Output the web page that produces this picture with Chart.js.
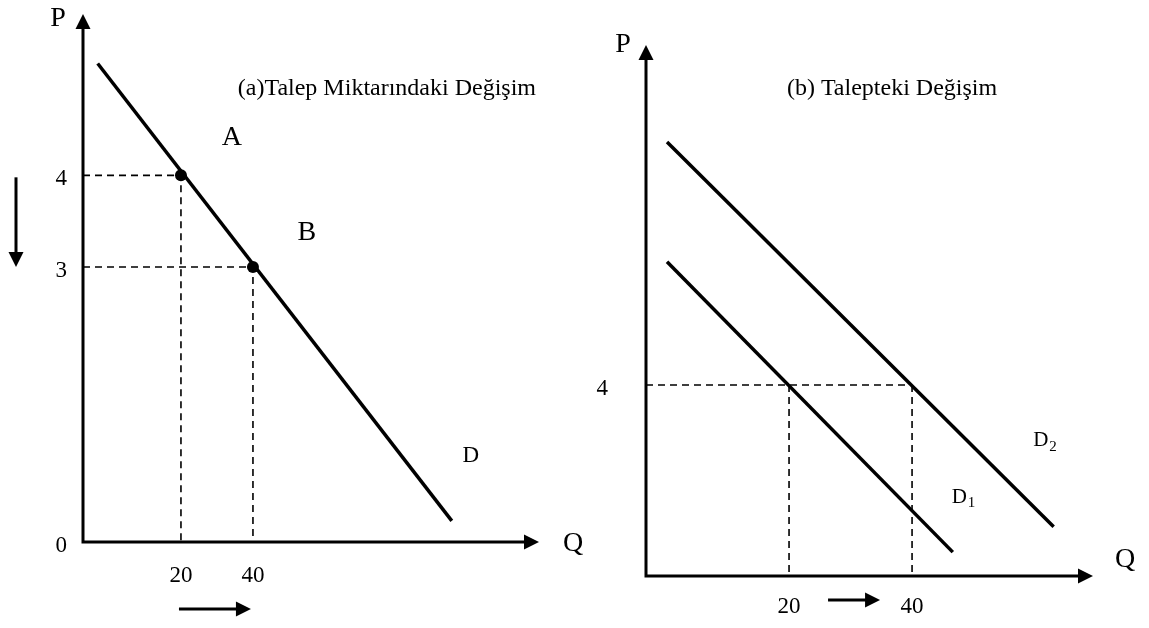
<!DOCTYPE html>
<html lang="tr">
<head>
<meta charset="utf-8" />
<title>Talep Miktarındaki Değişim / Talepteki Değişim</title>
<style>
*{margin:0;padding:0;box-sizing:border-box}
body{width:1149px;height:628px;background:#fff;position:relative;overflow:hidden}
.panel{position:absolute;top:0}
#panelA{left:0;width:595px;height:628px}
#panelB{left:595px;width:554px;height:628px}
</style>
</head>
<body>
<div class="panel" id="panelA"><canvas id="chartA" width="595" height="628"></canvas></div>
<div class="panel" id="panelB"><canvas id="chartB" width="554" height="628"></canvas></div>

<script src="https://cdn.jsdelivr.net/npm/chart.js@4.4.1"></script>
<script>
/* the sketch is not to scale: Q runs in sketch units and the 20 / 40 labels
   sit where the picture puts them */

/* ── panel (a): movement along one demand curve ── */
const qLabelsA    = ['20', '40'];
const qAtA        = [20, 34.7];
const pTicksA     = [0, 3, 4];
const demandA     = [[3.0, 5.22], [75.3, 0.23]];
const pointsA     = [[20, 4], [34.7, 3]];
const pointNamesA = ['A', 'B'];

/* ── panel (b): the whole curve shifts ── */
const qLabelsB = ['20', '40'];
const qAtB     = [20, 37.2];
const pTicksB  = [4];
const demandB1 = [[2.94, 6.58], [42.9, 0.50]];
const demandB2 = [[2.94, 9.09], [57.0, 1.03]];

const SERIF = '"Liberation Serif","Times New Roman",serif';
const INK = '#000';

const xy = arr => arr.map(([x, y]) => ({x, y}));

/* filled triangle, tip at (x,y) */
function head(ctx, x, y, dir, len = 15, half = 7.5){
    ctx.beginPath();
    if(dir === 'up'){    ctx.moveTo(x, y); ctx.lineTo(x - half, y + len); ctx.lineTo(x + half, y + len); }
    if(dir === 'down'){  ctx.moveTo(x, y); ctx.lineTo(x - half, y - len); ctx.lineTo(x + half, y - len); }
    if(dir === 'right'){ ctx.moveTo(x, y); ctx.lineTo(x - len, y - half); ctx.lineTo(x - len, y + half); }
    ctx.closePath();
    ctx.fill();
}

function text(ctx, t, x, y, size, align = 'center'){
    ctx.font = size + 'px ' + SERIF;
    ctx.textAlign = align;
    ctx.textBaseline = 'middle';
    ctx.fillText(t, x, y);
}

/* axes with arrowheads, tick labels and the sketch's annotations */
const sketch = {
    id: 'sketch',
    afterDatasetsDraw(chart, args, o){
        const {ctx} = chart;
        const xs = chart.scales.x, ys = chart.scales.y;
        const X = v => xs.getPixelForValue(v), Y = v => ys.getPixelForValue(v);
        const x0 = X(0), y0 = Y(0), xEnd = X(xs.max), yEnd = Y(ys.max);

        ctx.save();
        ctx.strokeStyle = INK;
        ctx.fillStyle = INK;

        ctx.lineWidth = 3;
        ctx.beginPath();
        ctx.moveTo(x0, y0 + 1.5); ctx.lineTo(x0, yEnd + 12);
        ctx.moveTo(x0 - 1.5, y0); ctx.lineTo(xEnd - 12, y0);
        ctx.stroke();
        head(ctx, x0, yEnd, 'up');
        head(ctx, xEnd, y0, 'right');

        text(ctx, 'P', x0 + o.pAt[0], yEnd + o.pAt[1], 28);
        text(ctx, 'Q', xEnd + o.qAt[0], y0 + o.qAt[1], 28);

        o.pTicks.forEach(v => text(ctx, String(v), x0 - o.pGap, Y(v) + 4, 23, 'right'));
        o.qLabels.forEach((l, i) => text(ctx, l, X(o.qPos[i]), y0 + o.qGap, 23));

        // arrows showing the direction of change
        ctx.lineWidth = 3;
        o.arrows.forEach(a => {
            if(a.dir === 'down'){
                const x = x0 + a.off, ya = Y(a.from) + 2, yb = Y(a.to);
                ctx.beginPath(); ctx.moveTo(x, ya); ctx.lineTo(x, yb - 12); ctx.stroke();
                head(ctx, x, yb, 'down');
            } else {
                const y = y0 + a.off, xa = X(a.from) + a.trim[0], xb = X(a.to) + a.trim[1];
                ctx.beginPath(); ctx.moveTo(xa, y); ctx.lineTo(xb - 12, y); ctx.stroke();
                head(ctx, xb, y, 'right');
            }
        });

        o.notes.forEach(n => {
            text(ctx, n.t, X(n.x), Y(n.y), n.size, n.align || 'center');
            if(n.sub){
                const w = ctx.measureText(n.t).width;
                const left = (n.align === 'left') ? X(n.x) + w : X(n.x) + w / 2;
                text(ctx, n.sub, left + 1, Y(n.y) + 6, 15, 'left');
            }
        });
        ctx.restore();
    }
};

function lineSet(data, width, dash, order){
    return {data: xy(data), showLine: true, borderColor: INK, borderWidth: width,
            borderDash: dash, pointRadius: 0, clip: false, order, borderCapStyle: 'butt'};
}

function baseOptions(pad, xMax, yMax, sk){
    return {
        responsive: false,
        animation: false,
        events: [],
        layout: {padding: pad},
        scales: {
            x: {type: 'linear', min: 0, max: xMax, display: false},
            y: {type: 'linear', min: 0, max: yMax, display: false}
        },
        plugins: {legend: {display: false}, tooltip: {enabled: false}, sketch: sk}
    };
}

/* (a) */
new Chart(document.getElementById('chartA'), {
    type: 'scatter',
    data: {datasets: [
        lineSet([[0, pointsA[0][1]], pointsA[0], [pointsA[0][0], 0]], 1.6, [7, 5], 2),
        lineSet([[0, pointsA[1][1]], pointsA[1], [pointsA[1][0], 0]], 1.6, [7, 5], 2),
        lineSet(demandA, 3.5, [], 1),
        {data: xy(pointsA), pointRadius: 6, pointBackgroundColor: INK, pointBorderWidth: 0, clip: false, order: 0}
    ]},
    options: baseOptions({left: 83, top: 14, right: 56, bottom: 86}, 93.1, 5.76, {
        pAt: [-25, 5], qAt: [34, 2],
        pTicks: pTicksA, pGap: 16,
        qLabels: qLabelsA, qPos: qAtA, qGap: 34,
        arrows: [
            {dir: 'down', off: -67, from: pTicksA[2], to: pTicksA[1]},
            {dir: 'right', off: 67, from: qAtA[0], to: qAtA[1], trim: [-2, -2]}
        ],
        notes: [
            {t: '(a)Talep Miktarındaki Değişim', x: 31.6, y: 4.94, size: 24, align: 'left'},
            {t: pointNamesA[0], x: 30.4, y: 4.41, size: 28},
            {t: pointNamesA[1], x: 45.7, y: 3.38, size: 28},
            {t: 'D', x: 79.2, y: 0.94, size: 23}
        ]
    }),
    plugins: [sketch]
});

/* (b) */
new Chart(document.getElementById('chartB'), {
    type: 'scatter',
    data: {datasets: [
        lineSet([[0, pTicksB[0]], [qAtB[1], pTicksB[0]]], 1.6, [7, 5], 2),
        lineSet([[qAtB[0], pTicksB[0]], [qAtB[0], 0]], 1.6, [7, 5], 2),
        lineSet([[qAtB[1], pTicksB[0]], [qAtB[1], 0]], 1.6, [7, 5], 2),
        lineSet(demandB1, 3.5, [], 1),
        lineSet(demandB2, 3.5, [], 1)
    ]},
    options: baseOptions({left: 51, top: 45, right: 56, bottom: 52}, 62.5, 11.12, {
        pAt: [-23, 0], qAt: [32, -16],
        pTicks: pTicksB, pGap: 38,
        qLabels: qLabelsB, qPos: qAtB, qGap: 31,
        arrows: [
            {dir: 'right', off: 24, from: qAtB[0], to: qAtB[1], trim: [39, -32]}
        ],
        notes: [
            {t: '(b) Talepteki Değişim', x: 19.7, y: 10.2, size: 24, align: 'left'},
            {t: 'D', sub: '1', x: 43.8, y: 1.65, size: 21},
            {t: 'D', sub: '2', x: 55.2, y: 2.83, size: 21}
        ]
    }),
    plugins: [sketch]
});
</script>
</body>
</html>
